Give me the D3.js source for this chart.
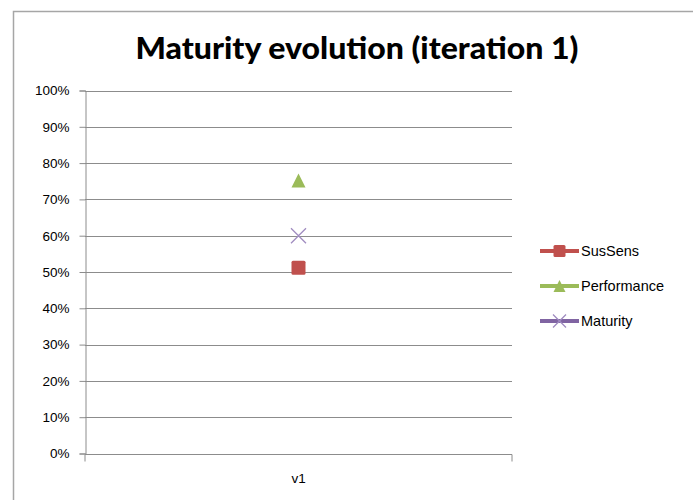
<!DOCTYPE html>
<html><head><meta charset="utf-8">
<script src="https://cdn.jsdelivr.net/npm/d3@7"></script>
<style>body{margin:0;background:#fff}svg{display:block}</style>
</head><body><svg id="c" width="693" height="500"></svg>
<script>
const categories = ["v1"];
const seriesNames = ["SusSens", "Performance", "Maturity"];
const susSens = [0.512];
const performance = [0.752];
const maturity = [0.60];
const yTicks = [0,0.1,0.2,0.3,0.4,0.5,0.6,0.7,0.8,0.9,1.0];
const colors = {SusSens:"#C0504D", Performance:"#9BBB59", Maturity:"#8064A2"};
const series = [
  {name:"SusSens", values:susSens, marker:"square"},
  {name:"Performance", values:performance, marker:"triangle"},
  {name:"Maturity", values:maturity, marker:"x"}
];

const svg = d3.select("#c");
const font = "'Liberation Sans', Arial, sans-serif";
// chart border
svg.append("rect").attr("x",13.5).attr("y",11.5).attr("width",700).attr("height",520)
  .attr("fill","#fff").attr("stroke","#a6a6a6").attr("stroke-width",1.5);

svg.append("text").attr("x",357).attr("y",59).attr("text-anchor","middle")
  .attr("font-family","Lato, 'Open Sans', sans-serif").attr("font-weight","900").attr("font-size",31)
  .attr("fill","#000").attr("textLength",443).attr("lengthAdjust","spacingAndGlyphs")
  .text("Maturity evolution (iteration 1)");

const L=85, R=512, T=90.5, B=453.5;
const x = d3.scaleBand().domain(categories).range([L,R]);
const y = d3.scaleLinear().domain([0,1]).range([B,T]);

const grid = svg.append("g");
grid.selectAll("line").data(yTicks).join("line")
  .attr("x1",L).attr("x2",R).attr("y1",d=>Math.round(y(d))+0.5).attr("y2",d=>Math.round(y(d))+0.5)
  .attr("stroke","#8c8c8c").attr("stroke-width",1);

const yAxis = svg.append("g").attr("transform",`translate(${L+0.5},0)`)
  .call(d3.axisLeft(y).tickValues(yTicks).tickFormat(d3.format(".0%")).tickSize(6).tickPadding(10));
yAxis.select(".domain").attr("stroke","#8c8c8c");
yAxis.selectAll(".tick line").attr("stroke","#8c8c8c");
yAxis.selectAll(".tick text").attr("font-family",font).attr("font-size",13.5).attr("fill","#000");

const xAxis = svg.append("g").attr("transform",`translate(0,${Math.round(B)+0.5})`)
  .call(d3.axisBottom(x).tickSize(0).tickPadding(19));
xAxis.select(".domain").attr("stroke","#8c8c8c").attr("d",`M${L},7V0H${R}V7`);
xAxis.selectAll(".tick text").attr("font-family",font).attr("font-size",13.5).attr("fill","#000");

function drawMarker(g, type, cx, cy, color, s){
  if(type==="square"){
    g.append("rect").attr("x",cx-s/2).attr("y",cy-s/2).attr("width",s).attr("height",s)
      .attr("rx",1.5).attr("fill",color);
  } else if(type==="triangle"){
    g.append("path").attr("d",`M${cx},${cy-s/2}L${cx+s/2},${cy+s/2}L${cx-s/2},${cy+s/2}Z`).attr("fill",color);
  } else {
    const h=s/2;
    g.append("path").attr("d",`M${cx-h},${cy-h}L${cx+h},${cy+h}M${cx-h},${cy+h}L${cx+h},${cy-h}`)
      .attr("stroke",color).attr("stroke-width",1.3).attr("fill","none");
  }
}

const marks = svg.append("g");
series.forEach(s=>{
  s.values.forEach((v,i)=>{
    const cx = x(categories[i]) + x.bandwidth()/2;
    drawMarker(marks, s.marker, cx, y(v), s.marker==="x"?"#a08cc0":colors[s.name], s.marker==="x"?15:14);
  });
});

const leg = svg.append("g");
series.forEach((s,i)=>{
  const ly = 251 + i*35;
  leg.append("line").attr("x1",540).attr("x2",579).attr("y1",ly).attr("y2",ly)
    .attr("stroke",colors[s.name]).attr("stroke-width",4);
  drawMarker(leg, s.marker, 559.5, ly, s.marker==="x"?"#a08cc0":colors[s.name], s.marker==="x"?13:12);
  leg.append("text").attr("x",581).attr("y",ly+5).attr("font-family",font).attr("font-size",14.5)
    .attr("fill","#000").text(s.name);
});
</script></body></html>
